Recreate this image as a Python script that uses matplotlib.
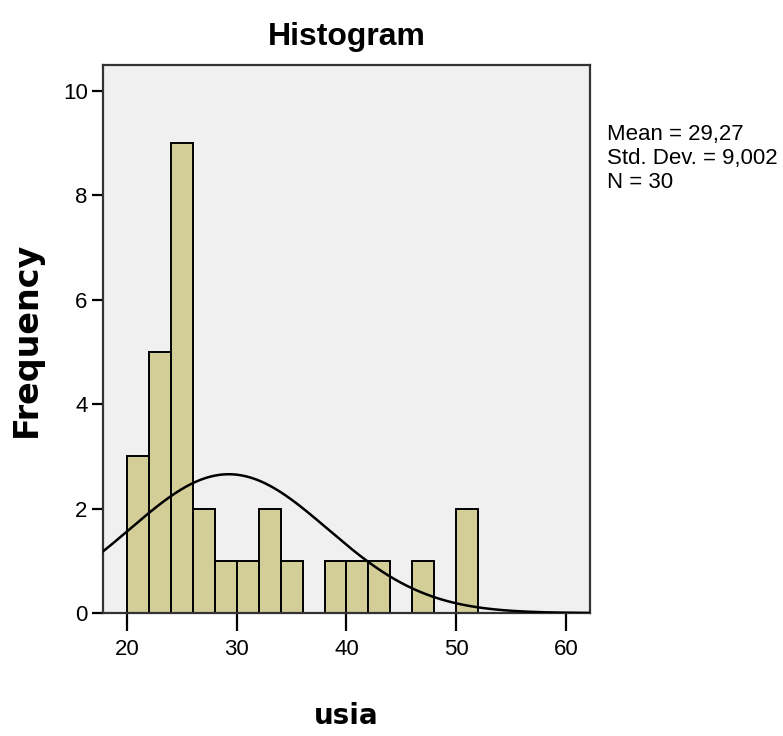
import numpy as np
import matplotlib
matplotlib.use("Agg")
import matplotlib.pyplot as plt

# bins of width 2, from 20 to 52
bin_edges = [20, 22, 24, 26, 28, 30, 32, 34, 36, 38, 40, 42, 44, 46, 48, 50, 52]
counts = [3, 5, 9, 2, 1, 1, 2, 1, 0, 1, 1, 1, 0, 1, 0, 2]
mean = 29.27
std = 9.002
n = 30

arial = ["Liberation Sans", "DejaVu Sans"]

fig = plt.figure(figsize=(7.83, 7.36), dpi=100)
ax = fig.add_axes([0.1315, 0.167, 0.622, 0.745])
ax.set_facecolor("#f0f0f0")

lefts = bin_edges[:-1]
widths = np.diff(bin_edges)
ax.bar(lefts, counts, width=widths, align="edge", color="#d3ce97",
       edgecolor="black", linewidth=1.4, zorder=2)

# normal curve scaled to counts
xs = np.linspace(17.8, 62.2, 300)
ys = n * widths[0] * np.exp(-0.5 * ((xs - mean) / std) ** 2) / (std * np.sqrt(2 * np.pi))
ax.plot(xs, ys, color="black", linewidth=1.8, zorder=3)

ax.set_xlim(17.8, 62.2)
ax.set_ylim(0, 10.5)
ax.set_xticks([20, 30, 40, 50, 60])
ax.set_yticks([0, 2, 4, 6, 8, 10])
for s in ax.spines.values():
    s.set_linewidth(1.6)
    s.set_color("#333333")
ax.tick_params(axis="x", direction="out", length=13, width=1.6, labelsize=16, pad=6)
ax.tick_params(axis="y", direction="out", length=8, width=1.6, labelsize=16, pad=3)
for lab in ax.get_xticklabels() + ax.get_yticklabels():
    lab.set_family(arial)

ax.set_title("Histogram", fontsize=23, family=arial, fontweight="bold", pad=14)
ax.set_xlabel("usia", fontsize=20, fontweight="bold", labelpad=30)
ax.set_ylabel("Frequency", fontsize=24, fontweight="bold", labelpad=14)

fig.text(0.775, 0.832, "Mean = 29,27\nStd. Dev. = 9,002\nN = 30",
         fontsize=16, family=arial, va="top", ha="left", linespacing=1.2)

fig.savefig("out.png", dpi=100)
